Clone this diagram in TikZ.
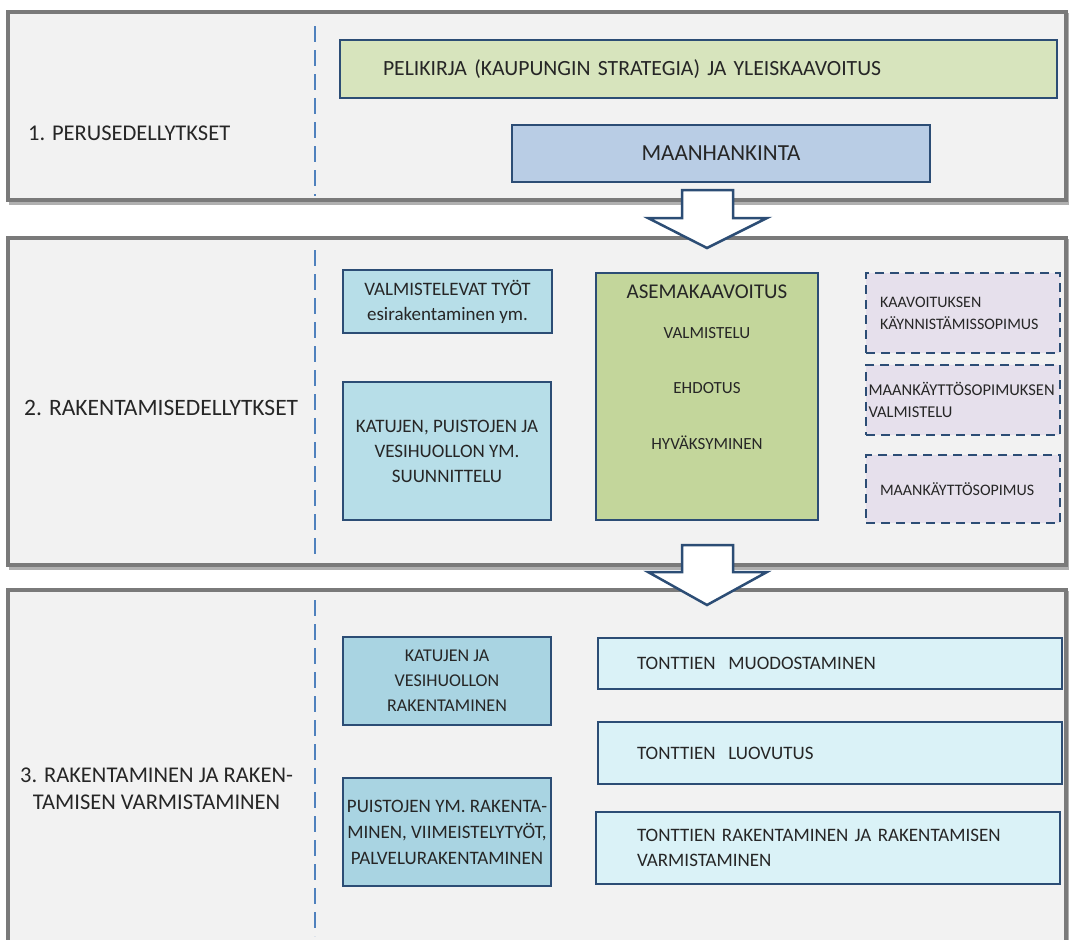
\documentclass[tikz,border=0pt]{standalone}
\usepackage{fontspec}
\setmainfont{Carlito}
\definecolor{panelfill}{HTML}{F2F2F2}
\definecolor{panelline}{HTML}{7A7A7A}
\definecolor{panelshadow}{HTML}{B0B0B0}
\definecolor{boxline}{HTML}{2C4D75}
\definecolor{greenA}{HTML}{D7E4BD}
\definecolor{blueM}{HTML}{B9CDE5}
\definecolor{blueL}{HTML}{B7DEE8}
\definecolor{greenB}{HTML}{C3D69B}
\definecolor{lilac}{HTML}{E6E0EC}
\definecolor{blueD}{HTML}{A9D4E2}
\definecolor{cyanL}{HTML}{DAF2F7}
\definecolor{dashblue}{HTML}{4F81BD}
\definecolor{txt}{HTML}{262626}
\newcommand{\fs}[1]{\fontsize{#1}{1.3\dimexpr#1pt\relax}\selectfont}
\tikzset{
  panel/.style={draw=panelline, line width=4pt, fill=panelfill},
  pshadow/.style={draw=panelshadow, line width=4pt},
  sep/.style={draw=dashblue, line width=1.3pt, dash pattern=on 16pt off 8pt},
  bx/.style={draw=boxline, line width=2.5pt, rectangle, inner sep=0pt, text=txt, align=center, font=\fs{19}},
  dbx/.style={draw=boxline, line width=2.2pt, dash pattern=on 9pt off 6pt, rectangle, fill=lilac, inner sep=0pt, text=txt, align=left, font=\fontsize{16}{22}\selectfont},
  lbl/.style={anchor=west, text=txt, font=\fs{22.5}, inner sep=0pt},
  blockarrow/.style={draw=boxline, line width=2.5pt, fill=white, line join=miter},
  tx/.style={text=txt, inner sep=0pt, font=\fs{17}}
}
\begin{document}
\begin{tikzpicture}[x=1pt,y=-1pt]
\useasboundingbox (0,0) rectangle (1069,940);
\clip (0,0) rectangle (1069,940);
% panels (with a soft shadow)
\path[pshadow] (11,15) rectangle (1069,203);
\path[panel] (8,12) rectangle (1066,200);
\path[pshadow] (11,241) rectangle (1069,568);
\path[panel] (8,238) rectangle (1066,565);
\path[pshadow] (11,593) rectangle (1069,963);
\path[panel] (8,590) rectangle (1066,960);
% separators
\coordinate (s1a) at (315,26); \coordinate (s1b) at (315,196);
\coordinate (s2a) at (315,250); \coordinate (s2b) at (315,561);
\coordinate (s3a) at (315,600); \coordinate (s3b) at (315,936);
\draw[sep] (s1a) -- (s1b);
\draw[sep] (s2a) -- (s2b);
\draw[sep] (s3a) -- (s3b);
% labels
\node[lbl] (l1) at (28,133) {1. PERUSEDELLYTKSET};
\node[lbl, font=\fs{23.5}] (l2) at (24,408) {2. RAKENTAMISEDELLYTKSET};
\node[lbl, align=center, font=\fontsize{22.5}{27}\selectfont] (l3) at (20,789) {3. RAKENTAMINEN JA RAKEN-\\TAMISEN VARMISTAMINEN};
% panel 1
\node[bx, fill=greenA, minimum width=717pt, minimum height=58pt, text width=631pt, align=left, inner xsep=43pt, font=\fs{21.7}] (pk) at (698.5,69) {PELIKIRJA (KAUPUNGIN STRATEGIA) JA YLEISKAAVOITUS};
\node[bx, fill=blueM, minimum width=418pt, minimum height=57pt, font=\fs{23}] (mh) at (721,153.5) {MAANHANKINTA};
% panel 2
\node[bx, fill=blueL, minimum width=209pt, minimum height=63pt, font=\fontsize{19}{25}\selectfont] (vt) at (447.5,301.5) {VALMISTELEVAT TYÖT\\esirakentaminen ym.};
\node[bx, fill=blueL, minimum width=208pt, minimum height=138pt, font=\fontsize{19}{25}\selectfont] (ks) at (447,451) {KATUJEN, PUISTOJEN JA\\VESIHUOLLON YM.\\SUUNNITTELU};
\node[bx, fill=greenB, minimum width=222pt, minimum height=247pt] (am) at (707,396.5) {};
\node[tx, font=\fs{21}] (amt) at (707,292) {ASEMAKAAVOITUS};
\node[tx] (am1) at (707,333) {VALMISTELU};
\node[tx] (am2) at (707,388) {EHDOTUS};
\node[tx] (am3) at (707,443) {HYVÄKSYMINEN};
\node[dbx, minimum width=194pt, minimum height=80pt, text width=166pt, inner xsep=14pt] (d1) at (963,313) {KAAVOITUKSEN\\KÄYNNISTÄMISSOPIMUS};
\node[dbx, minimum width=194pt, minimum height=70pt, text width=189pt, inner xsep=2.5pt, font=\fontsize{16.5}{22}\selectfont] (d2) at (963,400) {MAANKÄYTTÖSOPIMUKSEN\\VALMISTELU};
\node[dbx, minimum width=194pt, minimum height=68pt, text width=166pt, inner xsep=14pt] (d3) at (963,489) {MAANKÄYTTÖSOPIMUS};
% panel 3
\node[bx, fill=blueD, minimum width=208pt, minimum height=88pt, font=\fontsize{18}{25}\selectfont] (kv) at (447,681) {KATUJEN JA\\VESIHUOLLON\\RAKENTAMINEN};
\node[bx, fill=blueD, minimum width=208pt, minimum height=108pt, font=\fontsize{19}{26}\selectfont] (pr) at (447,832) {PUISTOJEN YM. RAKENTA-\\MINEN, VIIMEISTELYTYÖT,\\PALVELURAKENTAMINEN};
\node[bx, fill=cyanL, minimum width=464pt, minimum height=51pt, text width=386pt, align=left, inner xsep=39pt] (t1) at (830,663.5) {TONTTIEN\ \ MUODOSTAMINEN};
\node[bx, fill=cyanL, minimum width=464pt, minimum height=62pt, text width=386pt, align=left, inner xsep=39pt] (t2) at (830,753) {TONTTIEN\ \ LUOVUTUS};
\node[bx, fill=cyanL, minimum width=464pt, minimum height=72pt, text width=382pt, align=left, inner xsep=41pt, font=\fontsize{19}{25}\selectfont] (t3) at (828,848) {TONTTIEN RAKENTAMINEN JA RAKENTAMISEN\\VARMISTAMINEN};
% block arrows
\draw[blockarrow] (682,190) -- (733,190) -- (733,218) -- (767,218) -- (707,248) -- (648,218) -- (682,218) -- cycle;
\draw[blockarrow] (682,545) -- (733,545) -- (733,572) -- (767,572) -- (707,605) -- (648,572) -- (682,572) -- cycle;
\end{tikzpicture}
\end{document}
